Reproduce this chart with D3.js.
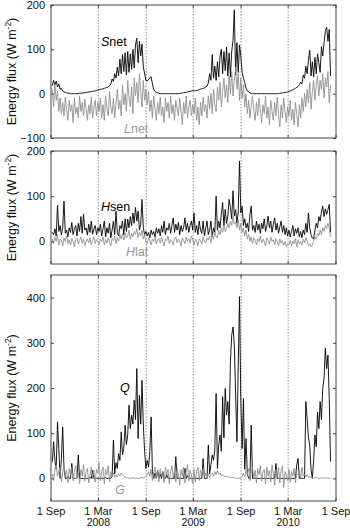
<!DOCTYPE html>
<html><head><meta charset="utf-8">
<script src="https://cdn.jsdelivr.net/npm/d3@7"></script>
<style>
body{margin:0;background:#fff}
svg{display:block}
text{font-family:"Liberation Sans",Arial,Helvetica,sans-serif}
</style>
</head><body>
<svg id="c" width="350" height="528"></svg>
<script>
// ---- sampling: one value every 5 days starting 6 Sep 2007 ----
const startDate = "2007-09-06";
const stepDays = 5;

// Panel 1: net shortwave / longwave radiation (W m-2)
const snet = [18,30,20,28,15,22,10,12,6, 4,3,2,1,1,0,0,0,0,0,0,0,1,1,1, 2,2,3,3,4,4,5,5,6,6,7,8,
  9,10,10,11,12,13,14,15,18,22, 33,28,45,35,60, 40,78,45,88,50, 92,42,95,48,90, 55,100,58,110,125, 70,118,85,112,60, 45,30,
  28,32,36,38,22,10,5,3,2,1, 0,0,0,0,0,0,0,0,0,0,0,0,0,0,0,0, 1,2,2,3,3,4,5,5,6,7,
  6,7,7,8,9,10,11,12,13,15, 17,24,45,30,88, 35,62,30,72,38, 85,100,45,95,52, 105,40,92,38,96, 120,189,42,115,48, 110,85,
  48,35,25,12,6,4,2, 0,0,0,0,0,0,0,0,0,0,0,0,0,0,0,0,0,0,0,0,0,0, 1,1,2,2,3,3,4,
  5,6,7,9,10,12,14,16,20,26, 22,42,35,62,45, 75,98,40,72,38, 82,45,90,70,48, 106,85,115,140,150, 118,145,40];
const lnet = [10,-30,20,-15,5, -40,-10,-45,-20,-50, -8,-35,-60,-15,-40, -25,-65,-10,-45,-30, -55,-5,-40,-20,-50, -12,-35,-60,-25,-45, -8,-55,-30,-15,-50, -20,
  -40,-10,-55,-25,-60, -5,-35,-50,5,-30, -45,-10,-55,-20,10, -35,-15,-50,20,-25, 0,-40,30,-10,-30, 15,-45,35,-5,25, -20,45,5,-30,30, -15,10,
  -25,5,-40,-15,-55, -5,-35,-60,-20,-45, -8,-50,-30,-65,-10, -40,-20,-55,-5,-45, -25,-60,-15,-35,-50, -10,-40,-70,-20,-45, -5,-55,-30,-15,-50, -25,
  -45,-10,-60,-30,-70, -20,-50,-8,-40,-25, -55,-5,-35,0,-45, 10,-25,-40,15,-15, 25,-30,5,35,-10, 20,-20,40,0,50, -5,30,60,10,45, -15,35,
  -10,20,-30,0,-45, -15,-55,-25,-5,-40, -60,-20,-50,-10,-35, -65,-25,-45,-5,-55, -30,-70,-15,-40,-60, -20,-50,-8,-45,-75, -25,-55,-10,-40,-65, -30,
  -50,-15,-60,-35,-70, -20,-45,-75,-25,-55, -10,-40,0,-30,10, -20,25,-35,5,30, -15,20,40,-5,30, 10,45,-10,35,15, 50,-20,20];

// Panel 2: sensible / latent heat flux (W m-2)
const hsen = [20,15,28,12,80, 22,35,14,30,89, 18,25,10,30,20, 42,15,28,35,12, 40,22,55,18,60, 25,30,14,38,20, 45,16,28,35,15, 30,
  22,38,12,28,45, 10,30,18,40,8, 25,45,15,67,20, 12,35,28,45,15, 50,22,49,30,55, 35,63,40,75,45, 67,25,38,93,30, 15,22,
  12,20,8,25,15, 22,10,30,18,28, 12,35,20,45,15, 30,25,40,18,35, 52,20,38,25,42, 15,35,22,30,52, 25,40,20,35,45, 25,
  63,20,35,15,45, 25,18,45,12,30, 45,15,25,45,10, 30,20,100,25,45, 30,60,86,35,71, 40,55,93,75,50, 112,56,70,40,65, 178,63,
  78,35,50,30,40, 22,60,78,25,35, 20,45,25,38,18, 40,28,50,22,35, 56,30,45,20,38, 52,25,40,18,32, 45,20,35,15,30, 12,
  25,10,22,35,12, 28,18,30,10,22, 8,25,15,40,20, 63,30,15,8,5, 25,40,30,55,45, 65,78,55,72,60, 70,82,20];
const hlat = [5,-5,10,0,15, -8,5,2,-10,8, 0,12,-5,3,-8, 6,0,-12,4,8, -6,2,10,-4,5, -10,0,6,-3,8, -8,2,10,-5,4, 0,
  -6,5,0,10,-8, 4,-4,8,0,-10, 6,2,12,-5,8, 0,15,5,18,3, 20,8,12,25,5, 18,10,22,15,28, 8,20,12,25,5, 15,0,
  -5,8,2,-8,5, 0,10,-6,3,6, -4,8,0,-10,5, 2,12,-5,4,0, -8,6,10,-3,5, 0,-10,8,2,-5, 10,0,6,-4,12, 5,
  -8,5,0,-10,6, 2,-6,10,0,-4, 8,3,12,-2,15, 5,20,10,8,25, 15,30,20,35,22, 28,40,30,45,35, 56,38,42,30,48, 25,40,
  20,30,12,25,5, 15,0,10,-5,8, 2,-8,6,0,12, -4,5,0,-10,8, 2,-6,10,0,4, -8,6,0,-10,5, -4,2,-8,0,-12, -5,
  -8,2,-10,0,-5, 6,-12,4,-6,0, -8,5,-3,8,0, -10,-5,-12,-8,0, 10,5,18,12,25, 15,30,22,35,28, 40,30,10];

// Panel 3: melt energy Q / ground heat flux G (W m-2)
const qMelt = [37,81,40,20,125,66,0,44,114,22,0,0,5,0,0,33,0,0,0,2,52,0,0,0,0,0,0,0,0,3,0,18,0,0,0,0,
  0,0,0,0,0,2,0,0,0,0, 5,85,10,35,22,55,40,103,52,66,118,75,96,162,110,140,120,173,130,243,88,184,120,217,118,60,22,
  40,25,60,136,15,0,12,0,18,0,10,0,15,0,0,8,0,0,0,0,0,0,48,0,0,0,0,0,0,22,0,6,0,0,0,0,
  0,0,0,0,0,0,0,44,0,0,0,74,10,30,52,40,63,188,22,74,96,60,181,90,199,140,170,120,258,317,335,295,184,81,251,402,170,
  66,177,20,88,10,0,0,118,0, 0,0,0,0,0,0,0,0,0,0,0,0,0,0,0,0,0, 33, 0,0,0,0,0,0,0,0,0,
  0,0,0,0,0,0,30,44,0,0,0,0,0,170,133,90,74,20,0,40,96,70,147,110,170,130,199,221,288,243,273,177,37];
const gFlux = [10,-5,20,30,5, 15,25,-8,12,30, 5,18,-10,22,8, 25,-5,15,28,0, 12,-12,20,5,30, -6,15,22,-10,8, 25,0,18,-8,20, 12,
  35,-5,15,25,-12, 20,8,28,-8,15, 5,12,2,8,3, 10,6,12,8,5, 3,2,1,0,1, 0,2,1,0,1, 0,0,1,2,0, 3,5,
  8,15,5,20,-5, 12,25,0,18,-8, 22,5,15,-10,25, 8,20,-12,15,28, 0,18,-8,22,10, -15,20,5,25,-10, 15,30,-5,18,8, -12,
  20,-8,15,25,-5, 18,8,22,3,12, 5,10,2,8,12, 5,15,8,18,10, 12,6,8,4,5, 3,4,2,3,1, 2,1,0,1,0, 1,0,
  5,12,3,18,8, 22,-5,15,25,0, 18,-10,22,8,28, -6,15,20,-12,25, 5,18,-8,30,10, -15,20,5,25,-10, 18,28,-20,15,8, -5,
  20,-8,15,5,22, -10,12,8,18,0, 25,5,10,3,8, 2,5,1,3,0, 2,1,1,0,1, 0,1,0,2,1, 0,1,0];

// x-axis ticks
const tickDates = ["2007-09-01","2008-03-01","2008-09-01","2009-03-01","2009-09-01","2010-03-01","2010-09-01"];
const tickLabels = ["1 Sep","1 Mar","1 Sep","1 Mar","1 Sep","1 Mar","1 Sep"];
const tickYears = ["","2008","","2009","","2010",""];

// y ticks per panel
const yTicks1 = [-100,0,100,200];
const yTicks2 = [0,100,200];
const yTicks3 = [0,100,200,300,400];

// ---------------- drawing ----------------
const svg = d3.select("#c");
const parse = d3.utcParse("%Y-%m-%d");
const t0 = parse(startDate);
const dates = snet.map((_, i) => d3.utcDay.offset(t0, i * stepDays));

const x = d3.scaleUtc()
  .domain([parse(tickDates[0]), parse(tickDates[tickDates.length - 1])])
  .range([51, 336]);

const panels = [
  {top: 5, bottom: 138, domain: [-100, 200], ticks: yTicks1,
   series: [{v: snet, c: "#000"}, {v: lnet, c: "#909090"}],
   labels: [{it: "S", rest: "net", x: 101, y: 46, c: "#000"}, {it: "L", rest: "net", x: 124, y: 133, c: "#999"}]},
  {top: 151, bottom: 264, domain: [-50, 200], ticks: yTicks2,
   series: [{v: hsen, c: "#000"}, {v: hlat, c: "#909090"}],
   labels: [{it: "H", rest: "sen", x: 101, y: 211, c: "#000"}, {it: "H", rest: "lat", x: 126, y: 256, c: "#999"}]},
  {top: 275, bottom: 501, domain: [-50, 450], ticks: yTicks3,
   series: [{v: qMelt, c: "#000"}, {v: gFlux, c: "#909090"}],
   labels: [{it: "Q", rest: "", x: 120, y: 392, c: "#000"}, {it: "G", rest: "", x: 115, y: 494, c: "#999"}]}
];

const [xl, xr] = x.range();

panels.forEach((p, pi) => {
  const y = d3.scaleLinear().domain(p.domain).range([p.bottom, p.top]);
  const g = svg.append("g");
  const cid = "clip" + pi;
  svg.append("clipPath").attr("id", cid).append("rect")
    .attr("x", xl).attr("y", p.top).attr("width", xr - xl).attr("height", p.bottom - p.top);

  // dotted vertical lines at inner ticks
  tickDates.slice(1, -1).forEach(d => {
    g.append("line").attr("x1", x(parse(d))).attr("x2", x(parse(d)))
      .attr("y1", p.top).attr("y2", p.bottom)
      .attr("stroke", "#777").attr("stroke-width", 0.8).attr("stroke-dasharray", "1.5,1.5");
  });

  // series
  p.series.forEach(s => {
    const line = d3.line().x((d, i) => x(dates[i])).y(d => y(d));
    g.append("path").datum(s.v).attr("d", line)
      .attr("fill", "none").attr("stroke", s.c).attr("stroke-width", 0.9)
      .attr("stroke-linejoin", "round").attr("clip-path", `url(#${cid})`);
  });

  // frame
  g.append("rect").attr("x", xl).attr("y", p.top).attr("width", xr - xl).attr("height", p.bottom - p.top)
    .attr("fill", "none").attr("stroke", "#444").attr("stroke-width", 1);

  // y axis left (inward ticks) and right ticks
  const ax = d3.axisLeft(y).tickValues(p.ticks).tickSizeInner(-3).tickSizeOuter(0).tickPadding(6);
  const ga = g.append("g").attr("transform", `translate(${xl},0)`).call(ax);
  ga.select(".domain").remove();
  ga.selectAll("line").attr("stroke", "#444");
  ga.selectAll("text").attr("font-size", 11).attr("fill", "#111");
  const axR = d3.axisRight(y).tickValues(p.ticks).tickSizeInner(-3).tickSizeOuter(0).tickFormat("");
  const gr = g.append("g").attr("transform", `translate(${xr},0)`).call(axR);
  gr.select(".domain").remove();
  gr.selectAll("line").attr("stroke", "#444");

  // x ticks inward at bottom and top
  tickDates.forEach(d => {
    const xx = x(parse(d));
    g.append("line").attr("x1", xx).attr("x2", xx).attr("y1", p.bottom).attr("y2", p.bottom - 3).attr("stroke", "#444");
    g.append("line").attr("x1", xx).attr("x2", xx).attr("y1", p.top).attr("y2", p.top + 3).attr("stroke", "#444");
  });

  // y label
  const cy = (p.top + p.bottom) / 2;
  const lab = g.append("text").attr("transform", `translate(15.5,${cy}) rotate(-90)`)
    .attr("text-anchor", "middle").attr("font-size", 12.5).attr("fill", "#111");
  lab.append("tspan").text("Energy flux (W m");
  lab.append("tspan").attr("font-size", 8.5).attr("dy", -5).text("-2");
  lab.append("tspan").attr("dy", 5).text(")");

  // series labels
  p.labels.forEach(l => {
    const t = g.append("text").attr("x", l.x).attr("y", l.y).attr("font-size", 12.5).attr("fill", l.c);
    t.append("tspan").attr("font-style", "italic").text(l.it);
    if (l.rest) t.append("tspan").text(l.rest);
  });
});

// x tick labels under bottom panel
const xa = svg.append("g");
tickDates.forEach((d, i) => {
  const xx = x(parse(d));
  xa.append("text").attr("x", xx).attr("y", 514.5).attr("text-anchor", "middle")
    .attr("font-size", 11).attr("fill", "#111").text(tickLabels[i]);
  if (tickYears[i]) xa.append("text").attr("x", xx).attr("y", 525.5).attr("text-anchor", "middle")
    .attr("font-size", 10.5).attr("fill", "#111").text(tickYears[i]);
});
</script>
</body></html>
